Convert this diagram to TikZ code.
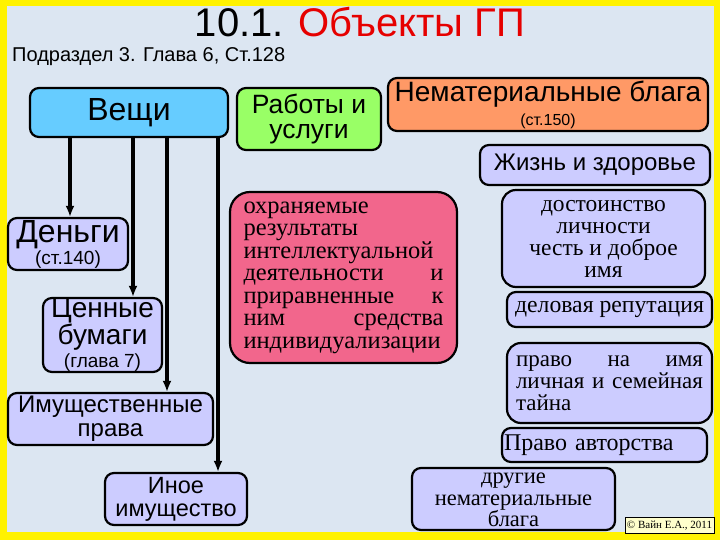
\documentclass[tikz,border=0pt]{standalone}
\usepackage{fontspec}
\setmainfont{Liberation Sans}
\newfontfamily\serifr{Liberation Serif}
\usetikzlibrary{arrows.meta}
\definecolor{bgc}{RGB}{220,230,242}
\definecolor{bluec}{RGB}{102,204,255}
\definecolor{greenc}{RGB}{153,255,102}
\definecolor{orangec}{RGB}{255,153,102}
\definecolor{lavc}{RGB}{204,204,255}
\definecolor{pinkc}{RGB}{242,102,140}
\definecolor{redc}{RGB}{230,0,0}
\definecolor{copyc}{RGB}{255,255,204}
\begin{document}
\begin{tikzpicture}[x=1pt,y=-1pt,
  box/.style={draw=black,line width=2.2pt,rounded corners=9pt,inner sep=0pt,align=center},
  lav/.style={box,fill=lavc},
  arr/.style={line width=3.5pt,-{Latex[length=11pt,width=9pt]}},
  fs/.style={font=\fontsize{#1}{#1}\selectfont}]
\useasboundingbox (0,0) rectangle (720,540);
\fill[yellow] (0,0) rectangle (720,540);
\fill[bgc] (7,6) rectangle (714,532);

\node[anchor=base,fs=40] (title) at (360,37) {10.1. \textcolor{redc}{Объекты ГП}};
\node[anchor=base west,inner sep=0pt,fs=20] (sub) at (12,62) {Подраздел 3. Глава 6, Ст.128};

\node[box,fill=bluec,minimum width=198pt,minimum height=49pt,fs=32] (veshchi) at (129,112.5) {Вещи};
\node[box,fill=greenc,minimum width=144pt,minimum height=62pt,font=\fontsize{26.5}{24.5}\selectfont] (raboty) at (309,119) {Работы и\\услуги};
\node[box,fill=orangec,minimum width=320pt,minimum height=53pt,font=\fontsize{28}{24}\selectfont] (nemat) at (548,104.5) {Нематериальные блага\\{\fontsize{16}{16}\selectfont (ст.150)}};
\node[lav,minimum width=230pt,minimum height=40pt,fs=24] (zhizn) at (595,165) {Жизнь и здоровье};

\node[lav,minimum width=120pt,minimum height=52pt,font=\fontsize{32}{22}\selectfont] (dengi) at (68,244) {Деньги\\{\fontsize{19}{19}\selectfont (ст.140)}};
\node[lav,minimum width=119pt,minimum height=74pt,font=\fontsize{28}{23}\selectfont] (cennye) at (102.5,335) {Ценные\\бумаги\\{\fontsize{19}{17}\selectfont (глава 7)}};
\node[lav,minimum width=205pt,minimum height=52pt,font=\fontsize{24}{24}\selectfont] (imush) at (110.5,419) {Имущественные\\права};
\node[lav,minimum width=142pt,minimum height=52pt,font=\fontsize{23.5}{23}\selectfont] (inoe) at (176,499) {Иное\\имущество};

\coordinate (x1) at (70,0);
\coordinate (x2) at (133,0);
\coordinate (x3) at (167,0);
\coordinate (x4) at (218,0);
\draw[arr] (veshchi.south -| x1) -- (dengi.north -| x1);
\draw[arr] (veshchi.south -| x2) -- (cennye.north -| x2);
\draw[arr] (veshchi.south -| x3) -- (imush.north -| x3);
\draw[arr] (veshchi.south -| x4) -- (inoe.north -| x4);

\node[box,fill=pinkc,rounded corners=20pt,minimum width=227pt,minimum height=171pt,text width=200pt,align=left,font=\serifr\fontsize{24.5}{22.5}\selectfont] (pink) at (343.5,277.5) {охраняемые\\результаты\\интеллектуальной\\деятельности\hfill и\\приравненные\hfill к\\ним\hfill средства\\индивидуализации};

\node[lav,rounded corners=14pt,minimum width=203pt,minimum height=97pt,font=\serifr\fontsize{23.5}{22}\selectfont] (dost) at (603.5,238.5) {достоинство\\личности\\честь и доброе\\имя};
\node[lav,minimum width=205pt,minimum height=35pt,font=\serifr\fontsize{23.7}{22}\selectfont] (delov) at (609.5,309.5) {деловая репутация};
\node[lav,rounded corners=14pt,minimum width=205pt,minimum height=80pt,text width=187pt,align=left,font=\serifr\fontsize{23}{22}\selectfont] (pravo) at (609.5,383) {право\hfill на\hfill имя\\личная и семейная\\тайна};
\node[lav,minimum width=205pt,minimum height=34pt,text width=201pt,align=left,font=\serifr\fontsize{24}{23}\selectfont] (avtor) at (604.5,445) {Право авторства};
\node[lav,minimum width=203pt,minimum height=62pt] (drugie) at (513.5,499) {};
\node[inner sep=0pt,align=center,font=\serifr\fontsize{22.5}{21.5}\selectfont] (drugiet) at ([yshift=-1pt]drugie.center) {другие\\нематериальные\\блага};
\node[draw=black,line width=0.8pt,fill=copyc,minimum width=89pt,minimum height=16pt,inner sep=0pt,font=\serifr\fontsize{11}{11}\selectfont] (copy) at (669.5,525.5) {© Вайн Е.А., 2011};
\end{tikzpicture}
\end{document}
